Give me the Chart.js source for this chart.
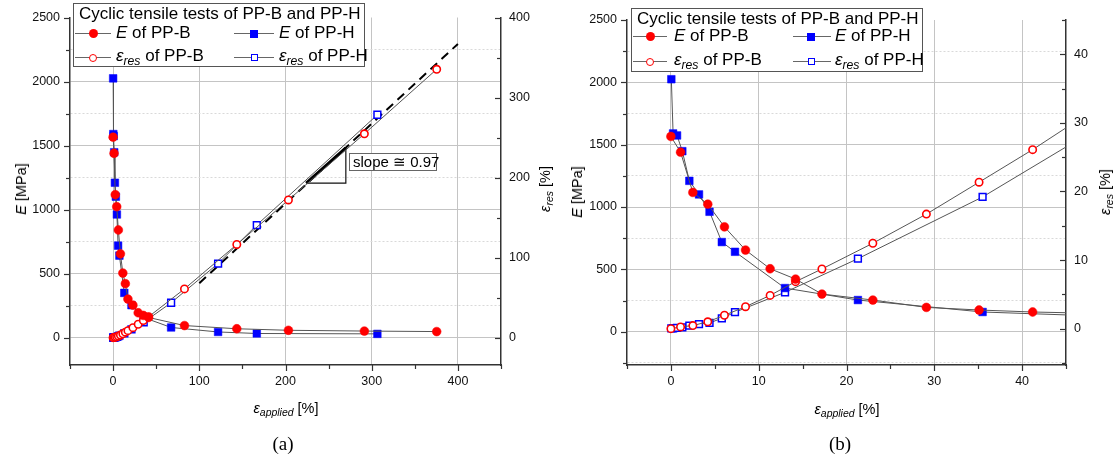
<!DOCTYPE html>
<html><head><meta charset="utf-8">
<script src="https://cdn.jsdelivr.net/npm/chart.js@4.4.1/dist/chart.umd.min.js"></script>
<style>
html,body{margin:0;padding:0;background:#fff;}
body{width:1114px;height:462px;overflow:hidden;position:relative;font-family:"Liberation Sans",Arial,sans-serif;color:#000;}
.panel{position:absolute;top:0;width:557px;height:462px;}
.panel canvas{position:absolute;left:0;top:0;}
.legend{position:absolute;background:#fff;border:1px solid #555;width:292px;height:64px;font-size:17px;box-sizing:border-box;}
.legend .t{position:absolute;left:5px;top:0px;line-height:20px;white-space:nowrap;}
.legend .ln{position:absolute;height:1px;background:#666;}
.legend .tx{position:absolute;line-height:20px;white-space:nowrap;}
.mk{position:absolute;box-sizing:border-box;}
.fc{width:9px;height:9px;border-radius:50%;background:#f00;margin:-4.5px 0 0 -4.5px;}
.oc{width:8px;height:8px;border-radius:50%;background:#fff;border:1.6px solid #f00;margin:-4px 0 0 -4px;}
.fs{width:8px;height:8px;background:#00f;margin:-4px 0 0 -4px;}
.os{width:7px;height:7px;background:#fff;border:1.5px solid #00f;margin:-3.5px 0 0 -3.5px;}
sub{font-size:0.72em;vertical-align:-0.3em;line-height:0;}
.ax{position:absolute;white-space:nowrap;font-size:14.5px;transform:translate(-50%,-50%);}
.axr{position:absolute;white-space:nowrap;font-size:14.5px;transform:translate(-50%,-50%) rotate(-90deg);}
.cap{position:absolute;font-family:"Liberation Serif","Times New Roman",serif;font-size:19px;transform:translate(-50%,-50%);}
.slope{position:absolute;background:#fff;border:1px solid #666;font-size:15px;line-height:16px;padding:0 3px;white-space:nowrap;box-sizing:border-box;}
</style>
</head><body>

<div class="panel" id="pa" style="left:0">
  <canvas id="ca" width="557" height="462"></canvas>
  <div class="legend" style="left:73px;top:3px;">
    <div class="t">Cyclic tensile tests of PP-B and PP-H</div>
    <div class="ln" style="left:1px;width:36px;top:29px"></div><div class="mk fc" style="left:19px;top:29.5px"></div>
    <div class="tx" style="left:42px;top:19px"><i>E</i> of PP-B</div>
    <div class="ln" style="left:160px;width:40px;top:29px"></div><div class="mk fs" style="left:180px;top:29.5px"></div>
    <div class="tx" style="left:205px;top:19px"><i>E</i> of PP-H</div>
    <div class="ln" style="left:1px;width:36px;top:53px"></div><div class="mk oc" style="left:19px;top:53.5px"></div>
    <div class="tx" style="left:42px;top:42px"><i>ε<sub>res</sub></i> of PP-B</div>
    <div class="ln" style="left:160px;width:40px;top:53px"></div><div class="mk os" style="left:180px;top:53.5px"></div>
    <div class="tx" style="left:205px;top:42px"><i>ε<sub>res</sub></i> of PP-H</div>
  </div>
  <div class="slope" style="left:349px;top:153px;width:88px;height:18px;">slope ≅ 0.97</div>
  <div class="axr" style="left:21px;top:189px;"><i>E</i> [MPa]</div>
  <div class="axr" style="left:545px;top:189px;"><i>ε<sub>res</sub></i> [%]</div>
  <div class="ax" style="left:286px;top:408px;"><i>ε<sub>applied</sub></i> [%]</div>
  <div class="cap" style="left:283px;top:444px;">(a)</div>
</div>

<div class="panel" id="pb" style="left:557px">
  <canvas id="cb" width="557" height="462"></canvas>
  <div class="legend" style="left:74px;top:8px;">
    <div class="t">Cyclic tensile tests of PP-B and PP-H</div>
    <div class="ln" style="left:1px;width:34px;top:27px"></div><div class="mk fc" style="left:18px;top:27.5px"></div>
    <div class="tx" style="left:42px;top:17px"><i>E</i> of PP-B</div>
    <div class="ln" style="left:161px;width:38px;top:27px"></div><div class="mk fs" style="left:179px;top:27.5px"></div>
    <div class="tx" style="left:203px;top:17px"><i>E</i> of PP-H</div>
    <div class="ln" style="left:1px;width:34px;top:52px"></div><div class="mk oc" style="left:18px;top:52.5px"></div>
    <div class="tx" style="left:42px;top:41px"><i>ε<sub>res</sub></i> of PP-B</div>
    <div class="ln" style="left:161px;width:38px;top:52px"></div><div class="mk os" style="left:179px;top:52.5px"></div>
    <div class="tx" style="left:203px;top:41px"><i>ε<sub>res</sub></i> of PP-H</div>
  </div>
  <div class="axr" style="left:20px;top:192px;"><i>E</i> [MPa]</div>
  <div class="axr" style="left:548px;top:192px;"><i>ε<sub>res</sub></i> [%]</div>
  <div class="ax" style="left:290px;top:409px;"><i>ε<sub>applied</sub></i> [%]</div>
  <div class="cap" style="left:283px;top:444px;">(b)</div>
</div>

<script>
// ---------------- data ----------------
const PPB_STRAIN = [0, 1.1, 2.5, 4.2, 6.1, 8.5, 11.3, 14.2, 17.2, 23.0, 29.1, 35.1, 41.2, 82.8, 143.5, 203.4, 291.5, 375.4];
const PPB_E      = [1566, 1440, 1117, 1023, 841, 655, 505, 422, 302, 254, 195, 174, 158, 95, 70, 58, 52, 48];
const PPB_EPS    = [0, 0.25, 0.45, 1.0, 1.95, 3.2, 4.85, 6.85, 8.7, 12.45, 16.7, 21.35, 26.1, 60.9, 116.4, 172.0, 254.7, 335.3];

const PPH_STRAIN = [0.05, 0.25, 0.7, 1.3, 2.1, 3.2, 4.4, 5.8, 7.3, 13.0, 21.3, 35.5, 67.3, 121.8, 166.7, 306.6];
const PPH_E      = [2025, 1590, 1574, 1448, 1210, 1101, 962, 719, 641, 350, 254, 158, 80, 45, 33, 30];
const PPH_EPS    = [0.05, 0.06, 0.1, 0.2, 0.45, 0.65, 0.85, 1.5, 2.4, 5.3, 10.2, 19.2, 43.6, 92.6, 140.7, 278.5];

// slope guide line (dashed) and slope triangle, chart (a), on the eps_res axis
const SLOPE_LINE_X = [100, 400];
const SLOPE_LINE_Y = [68, 367];
const TRI_X = [224, 270, 270];
const TRI_Y = [193, 193, 237];

// tick labels (major ticks); minor ticks lie halfway between
const A_X_TICKS  = [0, 100, 200, 300, 400];
const A_E_TICKS  = [0, 500, 1000, 1500, 2000, 2500];
const A_EP_TICKS = [0, 100, 200, 300, 400];
const B_X_TICKS  = [0, 10, 20, 30, 40];
const B_E_TICKS  = [0, 500, 1000, 1500, 2000, 2500];
const B_EP_TICKS = [0, 10, 20, 30, 40];

// ---------------- helpers ----------------
Chart.defaults.font.family = '"Liberation Sans", Arial, sans-serif';
Chart.defaults.font.size = 12.5;
Chart.defaults.color = '#111';

const pts = (xs, ys) => xs.map((x, i) => ({x, y: ys[i]}));

function makeAxis(o) {
  const major = o.major;
  const majorStep = major[1] - major[0];
  const minorStep = majorStep / 2;
  const isMajor = v => major.some(m => Math.abs(m - v) < 1e-6);
  const isTop = v => Math.abs(v - o.max) < 1e-6 || Math.abs(v - o.min) < 1e-6;
  return {
    type: 'linear', position: o.position, min: o.min, max: o.max, bounds: 'data',
    afterBuildTicks(scale) {
      const arr = [];
      const start = Math.ceil((o.min - 1e-6) / minorStep) * minorStep;
      for (let v = start; v <= o.max + 1e-6; v += minorStep) arr.push({value: Math.round(v * 1000) / 1000});
      scale.ticks = arr;
      scale.$isMajor = isMajor;
    },
    afterFit(scale) {
      if (o.width != null) scale.width = o.width;
      if (o.height != null) scale.height = o.height;
    },
    ticks: {
      autoSkip: false, maxRotation: 0, minRotation: 0, padding: o.padding,
      color: '#111', font: {size: 12.5},
      callback: v => isMajor(v) ? String(v) : ''
    },
    grid: {
      drawOnChartArea: !!o.grid, drawTicks: false, lineWidth: 1,
      color: ctx => {
        const v = ctx.tick ? ctx.tick.value : null;
        if (v == null || isTop(v)) return 'rgba(0,0,0,0)';
        if (isMajor(v)) return '#c4c4c4';
        return o.minorGrid ? '#d9d9d9' : 'rgba(0,0,0,0)';
      }
    },
    border: {
      display: true, color: '#333', width: 1.5,
      dash: ctx => (ctx.tick && !isMajor(ctx.tick.value)) ? [2, 2] : []
    }
  };
}

const tickPlugin = {
  id: 'tickMarks',
  afterDraw(chart) {
    const c = chart.ctx, a = chart.chartArea;
    c.save();
    c.strokeStyle = '#333';
    c.lineWidth = 1.2;
    for (const id of Object.keys(chart.scales)) {
      const s = chart.scales[id];
      if (!s.$isMajor) continue;
      for (const t of s.ticks) {
        const len = s.$isMajor(t.value) ? 6 : 4;
        const p = Math.round(s.getPixelForValue(t.value)) + 0.5;
        c.beginPath();
        if (s.isHorizontal()) { c.moveTo(p, a.bottom); c.lineTo(p, a.bottom + len); }
        else if (s.position === 'left') { c.moveTo(a.left - len, p); c.lineTo(a.left, p); }
        else { c.moveTo(a.right - len, p); c.lineTo(a.right, p); }
        c.stroke();
      }
    }
    c.restore();
  }
};

function dataSets(withSlope) {
  const ds = [
    {label: 'E of PP-B', data: pts(PPB_STRAIN, PPB_E), yAxisID: 'y',
     showLine: true, borderColor: '#555', borderWidth: 1,
     pointStyle: 'circle', pointRadius: 4.4, pointBackgroundColor: '#ff0000', pointBorderColor: '#ff0000', pointBorderWidth: 0.5},
    {label: 'eps_res of PP-B', data: pts(PPB_STRAIN, PPB_EPS), yAxisID: 'y2',
     showLine: true, borderColor: '#555', borderWidth: 1,
     pointStyle: 'circle', pointRadius: 3.7, pointBackgroundColor: '#ffffff', pointBorderColor: '#ff0000', pointBorderWidth: 1.6},
    {label: 'E of PP-H', data: pts(PPH_STRAIN, PPH_E), yAxisID: 'y',
     showLine: true, borderColor: '#555', borderWidth: 1,
     pointStyle: 'rect', pointRadius: 5.4, pointBackgroundColor: '#0000ff', pointBorderColor: '#0000ff', pointBorderWidth: 0.5},
    {label: 'eps_res of PP-H', data: pts(PPH_STRAIN, PPH_EPS), yAxisID: 'y2',
     showLine: true, borderColor: '#555', borderWidth: 1,
     pointStyle: 'rect', pointRadius: 4.8, pointBackgroundColor: '#ffffff', pointBorderColor: '#0000ff', pointBorderWidth: 1.5}
  ];
  if (withSlope) {
    ds.push({label: 'slope line', data: pts(SLOPE_LINE_X, SLOPE_LINE_Y), yAxisID: 'y2',
      showLine: true, borderColor: '#000', borderWidth: 2, borderDash: [9, 6], pointRadius: 0});
    ds.push({label: 'triangle', data: pts(TRI_X, TRI_Y), yAxisID: 'y2',
      showLine: true, borderColor: '#111', borderWidth: 1.2, pointRadius: 0});
    ds.push({label: 'hyp', data: pts([TRI_X[0], TRI_X[2]], [TRI_Y[0], TRI_Y[2]]), yAxisID: 'y2',
      showLine: true, borderColor: '#000', borderWidth: 3, pointRadius: 0});
  }
  return ds;
}

function build(id, cfg) {
  return new Chart(document.getElementById(id), {
    type: 'scatter',
    data: {datasets: dataSets(cfg.slope)},
    options: {
      responsive: false, animation: false, devicePixelRatio: 1,
      layout: {padding: {top: cfg.top, left: 0, right: 0, bottom: 0}},
      plugins: {legend: {display: false}, tooltip: {enabled: false}},
      elements: {line: {tension: 0}},
      scales: {
        x: makeAxis({position: 'bottom', min: cfg.xMin, max: cfg.xMax, major: cfg.xTicks, height: 97, padding: 9, grid: true, minorGrid: false}),
        y: makeAxis({position: 'left', min: cfg.eMin, max: cfg.eMax, major: cfg.eTicks, width: cfg.leftW, padding: 10, grid: true, minorGrid: true}),
        y2: makeAxis({position: 'right', min: cfg.pMin, max: cfg.pMax, major: cfg.pTicks, width: cfg.rightW, padding: 8, grid: false})
      }
    },
    plugins: [tickPlugin]
  });
}

build('ca', {slope: true, top: 13, leftW: 70, rightW: 56,
  xMin: -50, xMax: 450, xTicks: A_X_TICKS,
  eMin: -213, eMax: 2500, eTicks: A_E_TICKS,
  pMin: -34.2, pMax: 400, pTicks: A_EP_TICKS});

build('cb', {slope: false, top: 20, leftW: 70, rightW: 48,
  xMin: -5, xMax: 45, xTicks: B_X_TICKS,
  eMin: -267, eMax: 2500, eTicks: B_E_TICKS,
  pMin: -5.3, pMax: 45, pTicks: B_EP_TICKS});
</script>
</body></html>
